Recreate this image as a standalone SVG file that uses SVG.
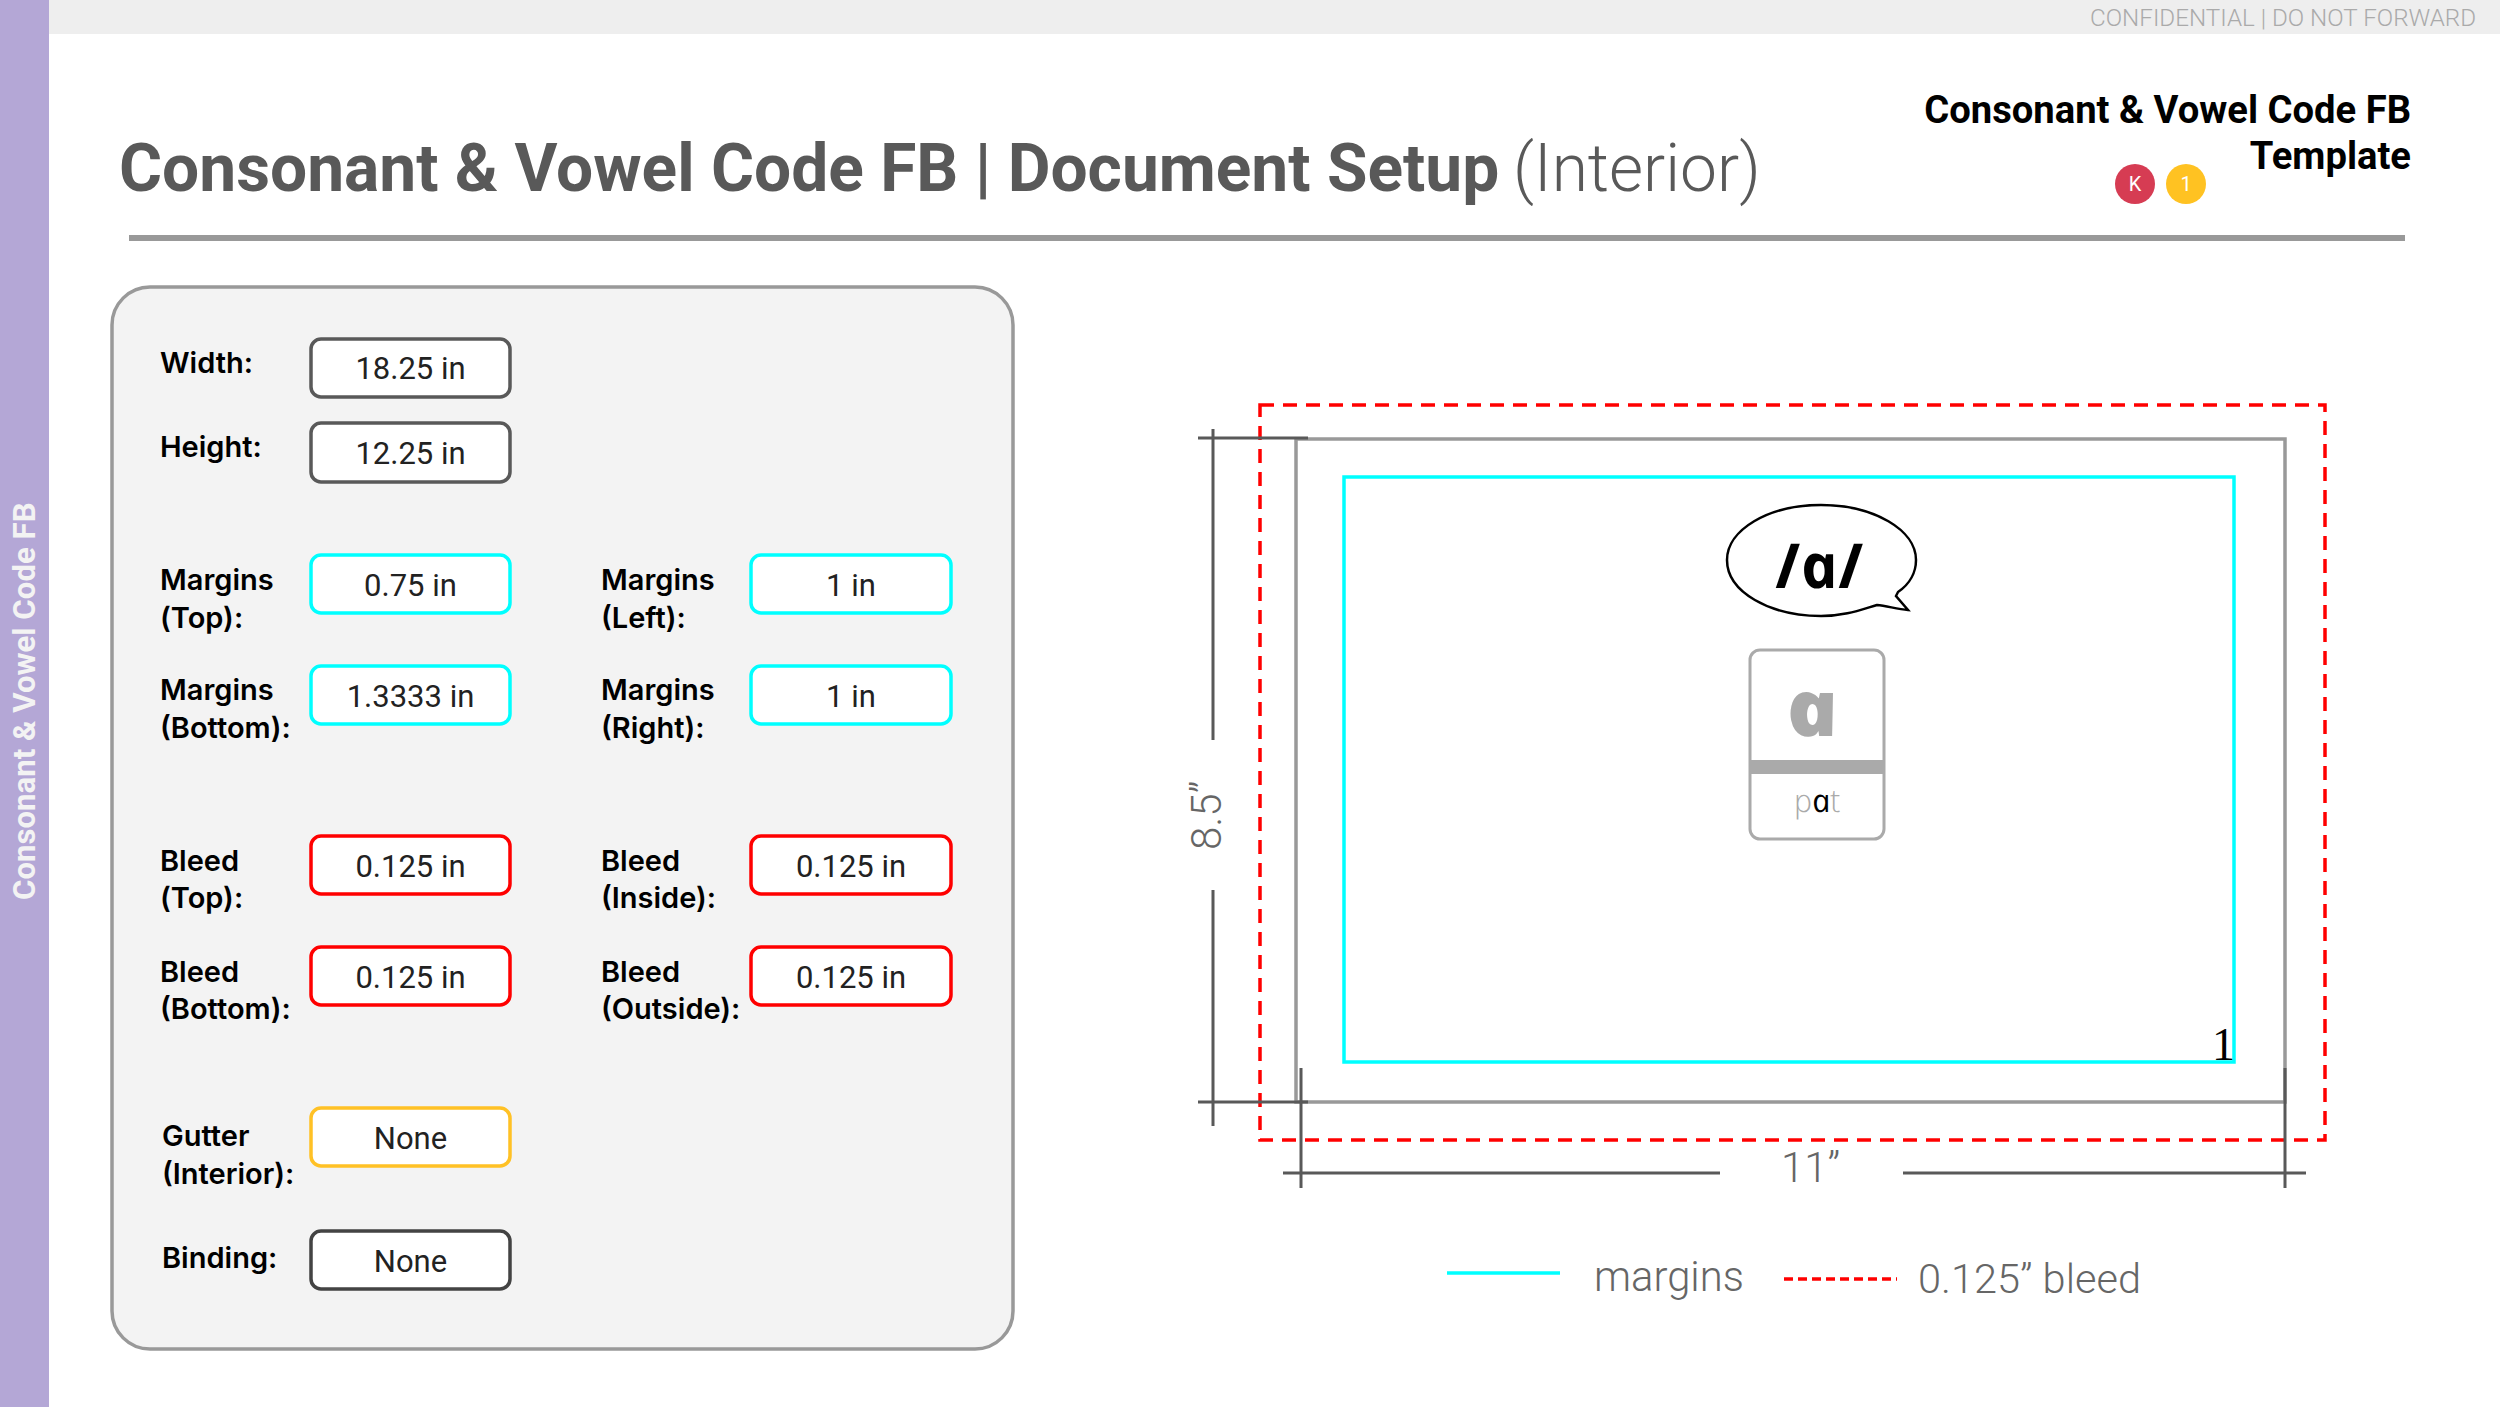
<svg xmlns="http://www.w3.org/2000/svg" width="2500" height="1407" viewBox="0 0 2500 1407">
<style>
text{font-family:Roboto,"Liberation Sans",sans-serif}
.lb{font-family:Inter,"Open Sans",sans-serif;font-weight:600;font-size:29px;fill:#000}
.val{font-size:31px;fill:#222;text-anchor:middle}
.box{fill:#fff;stroke-width:3.5}
.dim{stroke:#595959;stroke-width:3;fill:none}
.light{font-weight:300;fill:#666}
.k{stroke:#595959}.c{stroke:#00ffff}.r{stroke:#ff0000}.y{stroke:#ffc125}.b{stroke:#434343}
.os{font-family:"Open Sans",sans-serif;font-style:italic}
</style>
<rect width="2500" height="1407" fill="#fff"/>
<g id="header">
<rect x="0" y="0" width="2500" height="34" fill="#eeeeee"/>
<rect x="0" y="0" width="49" height="1407" fill="#b4a7d6"/>
<text transform="translate(35,900) rotate(-90)" font-size="31.2" font-weight="700" fill="#f3f3f3">Consonant &amp; Vowel Code FB</text>
<text x="2476" y="26" font-size="24.2" font-weight="300" fill="#aaa" text-anchor="end">CONFIDENTIAL | DO NOT FORWARD</text>
<text x="119" y="191" font-size="65.85" font-weight="700" fill="#595959">Consonant &amp; Vowel Code FB | Document Setup <tspan font-weight="300" dx="-2.5">(Interior)</tspan></text>
<rect x="129" y="235" width="2276" height="6" fill="#999"/>
<text x="2411" y="123" font-size="38.2" font-weight="700" fill="#000" text-anchor="end">Consonant &amp; Vowel Code FB</text>
<text x="2411" y="169" font-size="38.2" font-weight="700" fill="#000" text-anchor="end">Template</text>
</g>
<g id="badge-k"><circle cx="2135" cy="184" r="20" fill="#d63c53"/><text x="2135" y="191" font-size="20" font-weight="400" fill="#fff" text-anchor="middle">K</text></g>
<g id="badge-1"><circle cx="2186" cy="184" r="20" fill="#ffc222"/><text x="2186" y="191" font-size="20" font-weight="400" fill="#fff" text-anchor="middle">1</text></g>
<g id="panel"><rect x="112" y="287" width="901" height="1062" rx="38" fill="#f3f3f3" stroke="#999" stroke-width="3.5"/></g>
<g id="field-width"><text class="lb" x="160" y="373">Width:</text><rect class="box k" x="311" y="339" width="199" height="58" rx="10"/><text class="val" x="410.500" y="379">18.25 in</text></g>
<g id="field-height"><text class="lb" x="160" y="457">Height:</text><rect class="box k" x="311" y="423" width="199" height="59" rx="10"/><text class="val" x="410.500" y="464">12.25 in</text></g>
<g id="field-margin-top"><text class="lb" x="160" y="590">Margins</text><text class="lb" x="160" y="628">(Top):</text><rect class="box c" x="311" y="555" width="199" height="58" rx="10"/><text class="val" x="410.500" y="596">0.75 in</text></g>
<g id="field-margin-left"><text class="lb" x="601" y="590">Margins</text><text class="lb" x="601" y="628">(Left):</text><rect class="box c" x="751" y="555" width="200" height="58" rx="10"/><text class="val" x="851" y="596">1 in</text></g>
<g id="field-margin-bottom"><text class="lb" x="160" y="700">Margins</text><text class="lb" x="160" y="738">(Bottom):</text><rect class="box c" x="311" y="666" width="199" height="58" rx="10"/><text class="val" x="410.500" y="707">1.3333 in</text></g>
<g id="field-margin-right"><text class="lb" x="601" y="700">Margins</text><text class="lb" x="601" y="738">(Right):</text><rect class="box c" x="751" y="666" width="200" height="58" rx="10"/><text class="val" x="851" y="707">1 in</text></g>
<g id="field-bleed-top"><text class="lb" x="160" y="871">Bleed</text><text class="lb" x="160" y="908">(Top):</text><rect class="box r" x="311" y="836" width="199" height="58" rx="10"/><text class="val" x="410.500" y="877">0.125 in</text></g>
<g id="field-bleed-inside"><text class="lb" x="601" y="871">Bleed</text><text class="lb" x="601" y="908">(Inside):</text><rect class="box r" x="751" y="836" width="200" height="58" rx="10"/><text class="val" x="851" y="877">0.125 in</text></g>
<g id="field-bleed-bottom"><text class="lb" x="160" y="982">Bleed</text><text class="lb" x="160" y="1019">(Bottom):</text><rect class="box r" x="311" y="947" width="199" height="58" rx="10"/><text class="val" x="410.500" y="988">0.125 in</text></g>
<g id="field-bleed-outside"><text class="lb" x="601" y="982">Bleed</text><text class="lb" x="601" y="1019">(Outside):</text><rect class="box r" x="751" y="947" width="200" height="58" rx="10"/><text class="val" x="851" y="988">0.125 in</text></g>
<g id="field-gutter"><text class="lb" x="162" y="1146">Gutter</text><text class="lb" x="162" y="1184">(Interior):</text><rect class="box y" x="311" y="1108" width="199" height="58" rx="10"/><text class="val" x="410.500" y="1149">None</text></g>
<g id="field-binding"><text class="lb" x="162" y="1268">Binding:</text><rect class="box b" x="311" y="1231" width="199" height="58" rx="10"/><text class="val" x="410.500" y="1272">None</text></g>
<g id="page">
<rect x="1296" y="439" width="989" height="663" fill="none" stroke="#999" stroke-width="3.5"/>
<rect x="1344" y="477" width="890" height="585" fill="none" stroke="#00ffff" stroke-width="3.5"/>
<rect x="1260" y="405" width="1065" height="735" fill="none" stroke="#ff0000" stroke-width="3.5" stroke-dasharray="14 9"/>
<text x="2212" y="1060" style="font-family:'Liberation Serif',serif" font-size="46" fill="#000">1</text>
</g>
<g id="bubble">
<path d="M1898 592C1910 584 1916 572 1916 560C1916 530 1874 505 1821 505C1768 505 1727 530 1727 560C1727 592 1770 616 1821 616C1845 616 1860 610 1877 605C1887 606 1897 609 1908 610L1896 596Z" fill="#fff" stroke="#000" stroke-width="2.5"/>
<text class="os" transform="translate(1823,588) skewX(12)" font-size="62" font-weight="700" fill="#000" text-anchor="middle">/a/</text>
</g>
<g id="card">
<rect x="1750" y="650" width="134" height="189" rx="10" fill="#fff" stroke="#aaa" stroke-width="3"/>
<rect x="1750" y="760" width="133" height="14" fill="#aaa"/>
<text class="os" transform="translate(1817,736) skewX(12) scale(1.1,1)" font-size="78" font-weight="800" fill="#aaa" text-anchor="middle">a</text>
<text class="os" transform="translate(1819,812) skewX(12)" font-size="32" font-weight="300" fill="#aaa" text-anchor="middle">p<tspan fill="#000" font-weight="400">a</tspan>t</text>
</g>
<g id="connectors">
<path class="dim" d="M1213 429V740M1213 890V1126M1198 438H1308M1198 1102H1308"/>
<path class="dim" d="M1301 1068V1188M2285 1068V1188M1283 1173H1720M1903 1173H2306"/>
<path d="M1447 1273H1560" stroke="#00ffff" stroke-width="3.5"/>
<path d="M1784 1279H1897" stroke="#ff0000" stroke-width="3.5" stroke-dasharray="9 5"/>
</g>
<g id="dimension-labels">
<text class="light" transform="translate(1221,850) rotate(-90)" font-size="42">8.5”</text>
<text class="light" x="1781" y="1182" font-size="42">11”</text>
<text class="light" x="1594" y="1291" font-size="41.8">margins</text>
<text class="light" x="1918" y="1293" font-size="41.5">0.125” bleed</text>
</g>
</svg>
